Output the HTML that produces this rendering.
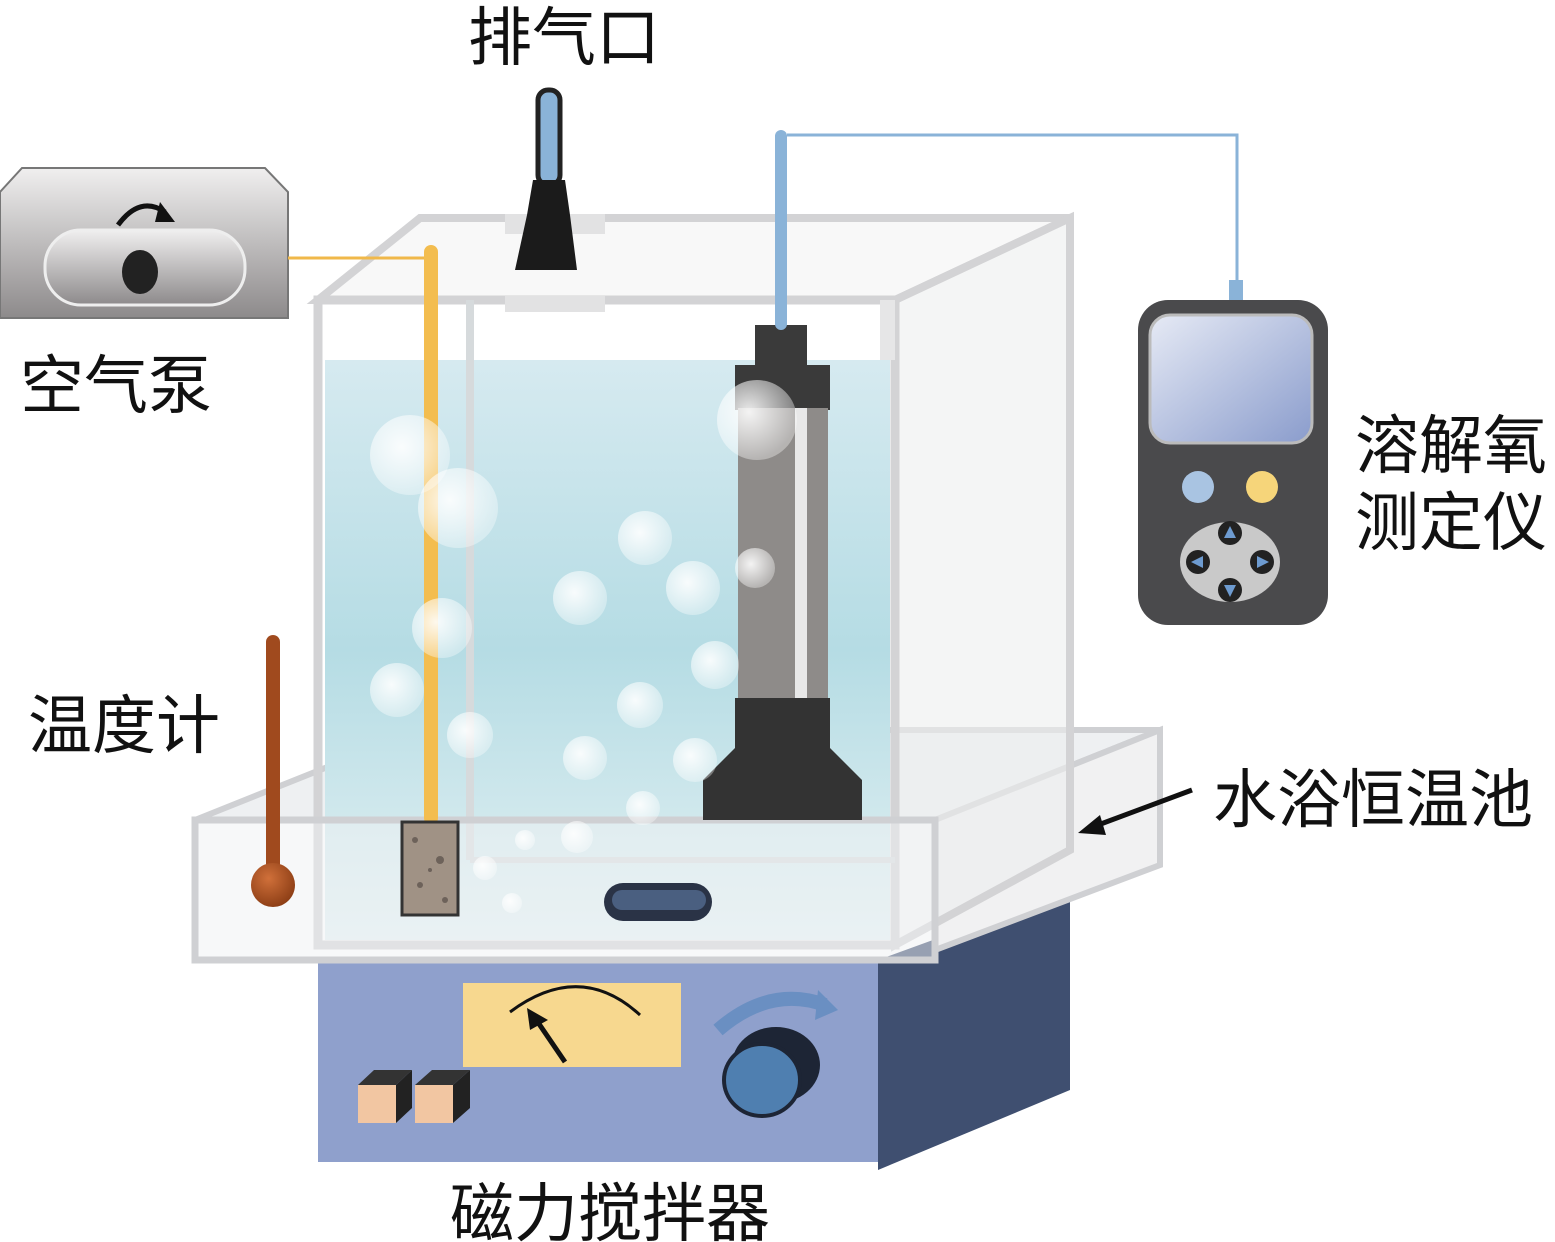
<!DOCTYPE html>
<html><head><meta charset="utf-8"><style>
html,body{margin:0;padding:0;background:#fff;}
svg{display:block;}
text{font-family:"Liberation Sans","Noto Sans CJK SC",sans-serif;fill:#111;}
</style></head><body>
<svg width="1555" height="1242" viewBox="0 0 1555 1242" xmlns="http://www.w3.org/2000/svg">
<defs>
<linearGradient id="water" x1="0" y1="0" x2="0" y2="1">
<stop offset="0" stop-color="#d6eaf0"/><stop offset="0.5" stop-color="#b5dce4"/><stop offset="1" stop-color="#e4f1f3"/></linearGradient>
<linearGradient id="pump" x1="0" y1="0" x2="0" y2="1">
<stop offset="0" stop-color="#f0efef"/><stop offset="1" stop-color="#8d8a8b"/></linearGradient>
<linearGradient id="screen" x1="0" y1="0" x2="1" y2="1">
<stop offset="0" stop-color="#e6eaf5"/><stop offset="1" stop-color="#8a9ccc"/></linearGradient>
<radialGradient id="bub" cx="0.4" cy="0.4" r="0.6"><stop offset="0" stop-color="#fff" stop-opacity="0.9"/><stop offset="1" stop-color="#fff" stop-opacity="0.35"/></radialGradient>
<radialGradient id="bulb" cx="0.4" cy="0.35" r="0.7"><stop offset="0" stop-color="#d0703a"/><stop offset="1" stop-color="#8a3c14"/></radialGradient>
</defs>

<!-- labels -->
<text x="468" y="60" font-size="64">排气口</text>
<text x="20" y="408" font-size="64">空气泵</text>
<text x="28" y="748" font-size="64">温度计</text>
<text x="1213" y="822" font-size="64">水浴恒温池</text>
<text x="1355" y="468" font-size="64">溶解氧</text>
<text x="1355" y="545" font-size="64">测定仪</text>
<text x="450" y="1236" font-size="64">磁力搅拌器</text>

<!-- stirrer base -->
<polygon points="878,960 1070,890 1070,1090 878,1170" fill="#3f4f70"/>
<rect x="318" y="960" width="560" height="202" fill="#8fa0cc"/>
<rect x="463" y="983" width="218" height="84" fill="#f7d88f"/>
<path d="M510,1012 Q580,960 640,1015" fill="none" stroke="#111" stroke-width="3"/>
<line x1="565" y1="1062" x2="535" y2="1018" stroke="#111" stroke-width="5"/>
<polygon points="527,1008 548,1020 530,1030" fill="#111"/>
<path d="M718,1030 Q770,985 825,1005" fill="none" stroke="#6a8fc2" stroke-width="14"/>
<polygon points="818,990 838,1010 815,1020" fill="#6a8fc2"/>
<ellipse cx="776" cy="1065" rx="44" ry="38" fill="#1d2535"/>
<ellipse cx="762" cy="1080" rx="38" ry="36" fill="#4f7fb0" stroke="#1d2535" stroke-width="4"/>
<rect x="358" y="1085" width="38" height="38" fill="#f2c6a2"/><polygon points="396,1085 412,1070 412,1108 396,1123" fill="#222"/><polygon points="358,1085 374,1070 412,1070 396,1085" fill="#333"/>
<rect x="415" y="1085" width="38" height="38" fill="#f2c6a2"/><polygon points="453,1085 470,1070 470,1108 453,1123" fill="#222"/><polygon points="415,1085 432,1070 470,1070 453,1085" fill="#333"/>

<!-- water bath tray -->
<polygon points="195,820 420,730 1160,730 935,820" fill="#eef0f2" stroke="#cfd0d3" stroke-width="6"/>
<polygon points="935,820 1160,730 1160,865 935,950" fill="#f1f1f2" stroke="#cfd0d3" stroke-width="6"/>

<!-- tank -->
<polygon points="318,300 420,218 1070,218 895,300" fill="#f3f3f4" stroke="#d3d3d5" stroke-width="8" fill-opacity="0.6"/>
<polygon points="895,300 1070,218 1070,850 895,945" fill="#eceeef" stroke="#d3d3d5" stroke-width="8" fill-opacity="0.6"/>
<rect x="325" y="360" width="565" height="580" fill="url(#water)"/>
<rect x="318" y="300" width="577" height="645" fill="none" stroke="#d3d3d5" stroke-width="9"/>
<line x1="470" y1="300" x2="470" y2="860" stroke="#d6dadc" stroke-width="8"/>
<line x1="470" y1="860" x2="895" y2="860" stroke="#d6dadc" stroke-width="6"/>
<rect x="505" y="214" width="100" height="20" fill="#e2e2e3"/>
<rect x="505" y="296" width="100" height="16" fill="#e2e2e3"/>
<rect x="880" y="300" width="15" height="60" fill="#e6e6e7"/>

<!-- tray front -->
<rect x="195" y="820" width="740" height="140" fill="#f0f2f3" fill-opacity="0.5" stroke="#cfd0d3" stroke-width="7"/>

<!-- exhaust -->
<rect x="538" y="90" width="22" height="95" rx="10" fill="#8ab3d8" stroke="#222" stroke-width="5"/>
<polygon points="533,180 565,180 570,215 577,270 515,270 527,215" fill="#1b1b1b"/>

<!-- DO probe -->
<rect x="755" y="325" width="52" height="45" fill="#3a3a3a"/>
<rect x="735" y="365" width="95" height="45" fill="#3a3a3a"/>
<rect x="738" y="408" width="90" height="295" fill="#8e8b89"/>
<rect x="795" y="408" width="12" height="295" fill="#e8e8e8"/>
<rect x="735" y="698" width="95" height="50" fill="#333"/>
<polygon points="735,748 830,748 862,780 862,820 703,820 703,780" fill="#333"/>
<rect x="775" y="130" width="12" height="200" rx="6" fill="#8ab3d8"/>
<polyline points="787,135 1237,135 1237,285" fill="none" stroke="#8ab3d8" stroke-width="3"/>
<rect x="1229" y="280" width="14" height="26" fill="#8ab3d8"/>

<!-- meter -->
<rect x="1138" y="300" width="190" height="325" rx="30" fill="#4a4a4c"/>
<rect x="1150" y="315" width="162" height="128" rx="20" fill="url(#screen)" stroke="#bbb" stroke-width="3"/>
<circle cx="1198" cy="487" r="16" fill="#a9c4e2"/>
<circle cx="1262" cy="487" r="16" fill="#f6d57a"/>
<ellipse cx="1230" cy="562" rx="50" ry="40" fill="#c9c9c9"/>
<circle cx="1230" cy="533" r="12" fill="#222"/><circle cx="1230" cy="590" r="12" fill="#222"/>
<circle cx="1198" cy="562" r="12" fill="#222"/><circle cx="1262" cy="562" r="12" fill="#222"/>
<polygon points="1230,526 1224,538 1236,538" fill="#6d9bd0"/><polygon points="1230,597 1224,585 1236,585" fill="#6d9bd0"/>
<polygon points="1191,562 1203,556 1203,568" fill="#6d9bd0"/><polygon points="1269,562 1257,556 1257,568" fill="#6d9bd0"/>

<!-- air pump -->
<polygon points="22,168 265,168 288,192 288,318 0,318 0,192" fill="url(#pump)" stroke="#777" stroke-width="2"/>
<rect x="45" y="230" width="200" height="75" rx="36" fill="url(#pump)" stroke="#eee" stroke-width="3"/>
<ellipse cx="140" cy="272" rx="18" ry="22" fill="#222"/>
<path d="M118,225 Q140,195 165,212" fill="none" stroke="#111" stroke-width="5"/>
<polygon points="160,202 175,222 155,222" fill="#111"/>
<line x1="288" y1="258" x2="432" y2="258" stroke="#f0b84a" stroke-width="3"/>
<rect x="424" y="245" width="14" height="580" rx="7" fill="#f3bd4f"/>

<!-- stone -->
<rect x="402" y="822" width="56" height="93" fill="#a09285" stroke="#333" stroke-width="3"/>
<g fill="#6d625a"><circle cx="415" cy="840" r="3"/><circle cx="440" cy="860" r="4"/><circle cx="420" cy="885" r="3"/><circle cx="445" cy="900" r="3"/><circle cx="430" cy="870" r="2"/></g>

<!-- thermometer -->
<rect x="266" y="635" width="14" height="240" rx="7" fill="#a04a1e"/>
<circle cx="273" cy="885" r="22" fill="url(#bulb)"/>

<!-- stir bar -->
<rect x="604" y="883" width="108" height="38" rx="19" fill="#2a3346"/>
<rect x="612" y="890" width="94" height="20" rx="10" fill="#4a5f80"/>

<!-- bubbles -->
<g fill="url(#bub)">
<circle cx="410" cy="455" r="40"/><circle cx="458" cy="508" r="40"/><circle cx="757" cy="420" r="40"/>
<circle cx="645" cy="538" r="27"/><circle cx="580" cy="598" r="27"/><circle cx="693" cy="588" r="27"/>
<circle cx="755" cy="568" r="20"/><circle cx="442" cy="628" r="30"/><circle cx="715" cy="665" r="24"/>
<circle cx="640" cy="705" r="23"/><circle cx="397" cy="690" r="27"/><circle cx="470" cy="735" r="23"/>
<circle cx="585" cy="758" r="22"/><circle cx="695" cy="760" r="22"/><circle cx="643" cy="808" r="17"/>
<circle cx="577" cy="837" r="16"/><circle cx="525" cy="840" r="10"/><circle cx="485" cy="868" r="12"/>
<circle cx="512" cy="903" r="10"/>
</g>

<!-- arrow to bath -->
<line x1="1192" y1="790" x2="1090" y2="828" stroke="#111" stroke-width="5"/>
<polygon points="1078,833 1100,815 1106,835" fill="#111"/>
</svg>
</body></html>
